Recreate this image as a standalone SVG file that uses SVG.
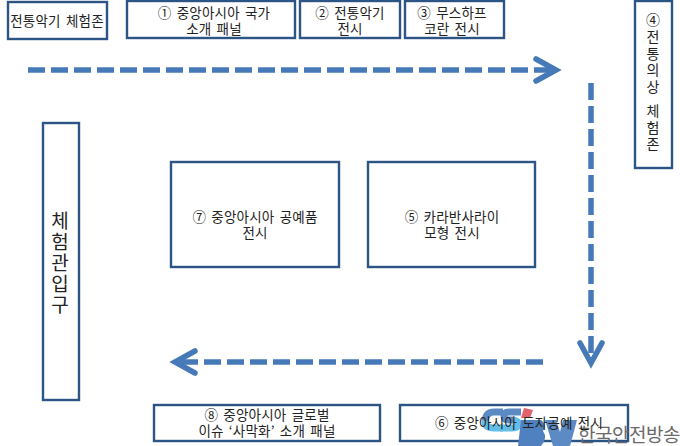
<svg xmlns="http://www.w3.org/2000/svg" width="680" height="446" viewBox="0 0 680 446">
<style>
.box{fill:#fff;stroke:#2c5585;stroke-width:2.4}
text{font-family:"Noto Sans CJK KR","Noto Sans",sans-serif;font-size:13.5px;word-spacing:2px;letter-spacing:.2px;fill:#222;text-anchor:middle}
.v{writing-mode:vertical-rl;text-orientation:upright;text-anchor:start;word-spacing:0}
.dash{fill:none;stroke:#4679b8;stroke-width:5.5;stroke-dasharray:17 6}
.head{fill:none;stroke:#4679b8;stroke-width:5.5;stroke-linecap:round;stroke-linejoin:miter}
.l1{fill:none;stroke:#5b8ac4;stroke-width:7}
.l2{fill:none;stroke:#62bde8;stroke-width:7}
</style>
<rect width="680" height="446" fill="#fff"/>
<g id="connectors">
<path class="dash" d="M28 70H550"/>
<path class="head" d="M536 59L556 70L536 81"/>
<path class="dash" d="M591 83V358"/>
<path class="head" d="M580 343L591 363L602 343"/>
<path class="dash" d="M543 362H180"/>
<path class="head" d="M195 351L175 362L195 373"/>
</g>
<g id="node-zone"><rect class="box" x="8" y="2" width="99" height="37"/><text x="57" y="26">전통악기 체험존</text></g>
<g id="node-1"><rect class="box" x="127" y="1" width="168" height="37"/><text x="214" y="18">① 중앙아시아 국가<tspan x="214" dy="16">소개 패널</tspan></text></g>
<g id="node-2"><rect class="box" x="300" y="1" width="100" height="37"/><text x="350" y="18">② 전통악기<tspan x="350" dy="16">전시</tspan></text></g>
<g id="node-3"><rect class="box" x="405" y="1" width="99" height="37"/><text x="452" y="18">③ 무스하프<tspan x="452" dy="16">코란 전시</tspan></text></g>
<g id="node-4"><rect class="box" x="635" y="1" width="37" height="167"/>
<text class="v" x="653" y="13" style="font-size:14px;letter-spacing:2.6px;word-spacing:-9px">④전통의상 체험존</text></g>
<g id="node-entry"><rect class="box" x="43" y="123" width="36" height="277"/>
<text class="v" x="60" y="211" style="font-size:19px;letter-spacing:2px">체험관입구</text></g>
<g id="node-7"><rect class="box" x="171" y="162" width="168" height="105"/><text x="255" y="222">⑦ 중앙아시아 공예품<tspan x="255" dy="16">전시</tspan></text></g>
<g id="node-5"><rect class="box" x="368" y="162" width="167" height="105"/><text x="452" y="222">⑤ 카라반사라이<tspan x="452" dy="16">모형 전시</tspan></text></g>
<g id="node-8"><rect class="box" x="154" y="405" width="226" height="36"/><text x="267" y="420">⑧ 중앙아시아 글로벌<tspan x="267" dy="16">이슈 ‘사막화’ 소개 패널</tspan></text></g>
<g id="node-6"><rect class="box" x="400" y="405" width="228" height="36"/></g>
<g id="watermark">
<path class="l1" d="M503 412H494Q486 412 485 421"/>
<path class="l2" d="M485 421Q485 428 494 428H503"/>
<path class="l1" d="M521 412H509Q504 412 504 416Q504 420 509 420H513"/>
<path class="l2" d="M513 420Q519 421 518 424Q518 428 512 428H500"/>
<path d="M524 408L533 410L530 418H521Z" fill="#e0626a"/>
<path d="M521 420H541Q547 424 543 431Q548 438 541 446H518Z" fill="#4f80bf"/>
<path d="M545 420H556L560 432L563 420H577L570 446H553Z" fill="#5b8ac4"/>
<text x="680" y="442" style="font-size:19px;word-spacing:0;letter-spacing:-.5px;fill:#6a6a6a;text-anchor:end">한국안전방송</text>
</g>
<text id="label-6" x="519" y="428">⑥ 중앙아시아 도자공예 전시</text>
</svg>
